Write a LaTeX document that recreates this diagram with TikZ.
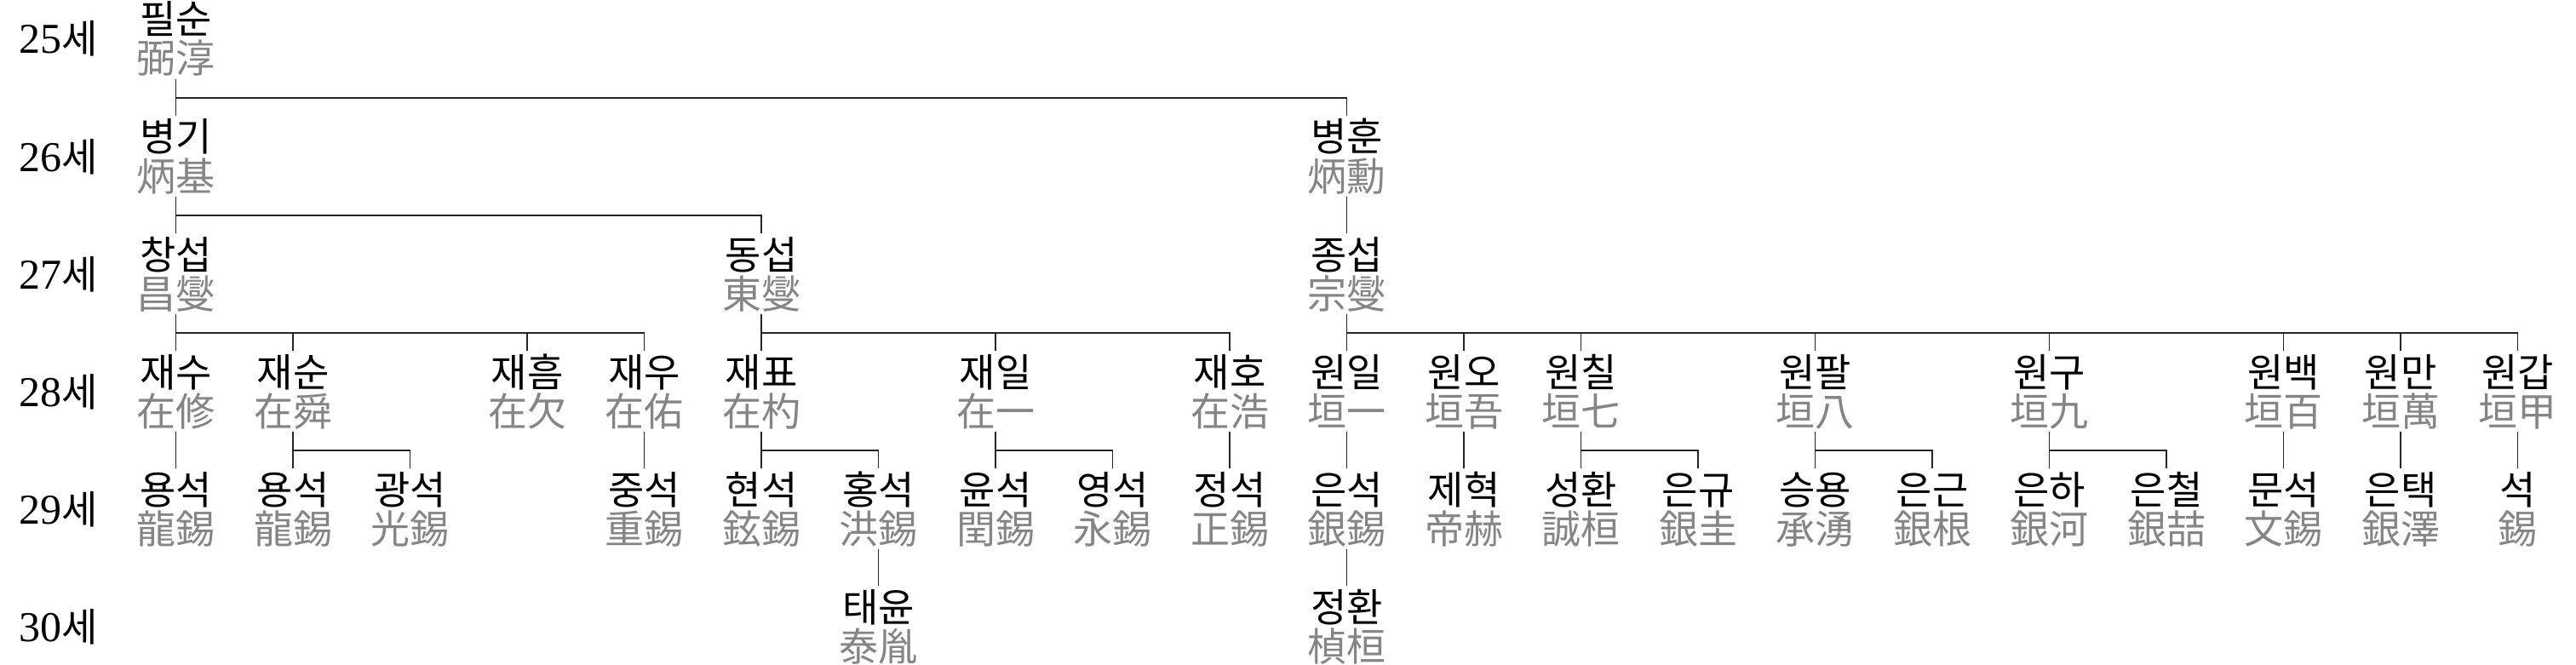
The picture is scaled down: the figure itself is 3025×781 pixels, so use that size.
\documentclass[tikz,border=0pt]{standalone}
\usepackage{fontspec}
\newfontfamily\kr{Noto Sans CJK KR}
\newfontfamily\lsf{Liberation Serif}
\tikzset{
  kor/.style={font=\kr\fontsize{46}{46}\selectfont, text=black, inner sep=0pt, outer sep=0pt, text height=42pt, text depth=0pt, anchor=base},
  han/.style={font=\kr\fontsize{46}{46}\selectfont, text=black!48, inner sep=0pt, outer sep=0pt, text height=30pt, text depth=7pt, anchor=base},
  gen/.style={inner sep=0pt, anchor=base west, text=black},
  conn/.style={draw=black!85, line width=1.5pt}
}
\newcommand\person[5]{%
  \node[kor] (#1) at ({206.6+137.5*#2},{40+138*#3}) {#4};
  \node[han] (#1h) at ({206.6+137.5*#2},{86+138*#3}) {#5};}
\newcommand\famlink[2]{\draw[conn] (#1h.south) -- ++(0,22) -| (#2.north);}
\newcommand\genlabel[2]{%
  \node[gen] (g#1) at (22,{63+138*#2}) {{\lsf\fontsize{50}{50}\selectfont #1}{\kr\fontsize{46}{46}\selectfont 세}};}
\begin{document}
\begin{tikzpicture}[x=1pt,y=-1pt]
\useasboundingbox (0,0) rectangle (3025,781);
\genlabel{25}{0}
\genlabel{26}{1}
\genlabel{27}{2}
\genlabel{28}{3}
\genlabel{29}{4}
\genlabel{30}{5}
% generation 25
\person{A}{0}{0}{필순}{弼淳}
% generation 26
\person{B1}{0}{1}{병기}{炳基}
\person{B2}{10}{1}{병훈}{炳勳}
% generation 27
\person{C1}{0}{2}{창섭}{昌燮}
\person{C2}{5}{2}{동섭}{東燮}
\person{C3}{10}{2}{종섭}{宗燮}
% generation 28
\person{D1}{0}{3}{재수}{在修}
\person{D2}{1}{3}{재순}{在舜}
\person{D3}{3}{3}{재흠}{在欠}
\person{D4}{4}{3}{재우}{在佑}
\person{D5}{5}{3}{재표}{在杓}
\person{D6}{7}{3}{재일}{在一}
\person{D7}{9}{3}{재호}{在浩}
\person{D8}{10}{3}{원일}{垣一}
\person{D9}{11}{3}{원오}{垣吾}
\person{D10}{12}{3}{원칠}{垣七}
\person{D11}{14}{3}{원팔}{垣八}
\person{D12}{16}{3}{원구}{垣九}
\person{D13}{18}{3}{원백}{垣百}
\person{D14}{19}{3}{원만}{垣萬}
\person{D15}{20}{3}{원갑}{垣甲}
% generation 29
\person{E1}{0}{4}{용석}{龍錫}
\person{E2}{1}{4}{용석}{龍錫}
\person{E3}{2}{4}{광석}{光錫}
\person{E4}{4}{4}{중석}{重錫}
\person{E5}{5}{4}{현석}{鉉錫}
\person{E6}{6}{4}{홍석}{洪錫}
\person{E7}{7}{4}{윤석}{閏錫}
\person{E8}{8}{4}{영석}{永錫}
\person{E9}{9}{4}{정석}{正錫}
\person{E10}{10}{4}{은석}{銀錫}
\person{E11}{11}{4}{제혁}{帝赫}
\person{E12}{12}{4}{성환}{誠桓}
\person{E13}{13}{4}{은규}{銀圭}
\person{E14}{14}{4}{승용}{承湧}
\person{E15}{15}{4}{은근}{銀根}
\person{E16}{16}{4}{은하}{銀河}
\person{E17}{17}{4}{은철}{銀喆}
\person{E18}{18}{4}{문석}{文錫}
\person{E19}{19}{4}{은택}{銀澤}
\person{E20}{20}{4}{석}{錫}
% generation 30
\person{F1}{6}{5}{태윤}{泰胤}
\person{F2}{10}{5}{정환}{楨桓}
% connectors
\famlink{A}{B1}\famlink{A}{B2}
\famlink{B1}{C1}\famlink{B1}{C2}
\famlink{B2}{C3}
\famlink{C1}{D1}\famlink{C1}{D2}\famlink{C1}{D3}\famlink{C1}{D4}
\famlink{C2}{D5}\famlink{C2}{D6}\famlink{C2}{D7}
\famlink{C3}{D8}\famlink{C3}{D9}\famlink{C3}{D10}\famlink{C3}{D11}
\famlink{C3}{D12}\famlink{C3}{D13}\famlink{C3}{D14}\famlink{C3}{D15}
\famlink{D1}{E1}
\famlink{D2}{E2}\famlink{D2}{E3}
\famlink{D4}{E4}
\famlink{D5}{E5}\famlink{D5}{E6}
\famlink{D6}{E7}\famlink{D6}{E8}
\famlink{D7}{E9}
\famlink{D8}{E10}
\famlink{D9}{E11}
\famlink{D10}{E12}\famlink{D10}{E13}
\famlink{D11}{E14}\famlink{D11}{E15}
\famlink{D12}{E16}\famlink{D12}{E17}
\famlink{D13}{E18}
\famlink{D14}{E19}
\famlink{D15}{E20}
\famlink{E6}{F1}
\famlink{E10}{F2}
\end{tikzpicture}
\end{document}
